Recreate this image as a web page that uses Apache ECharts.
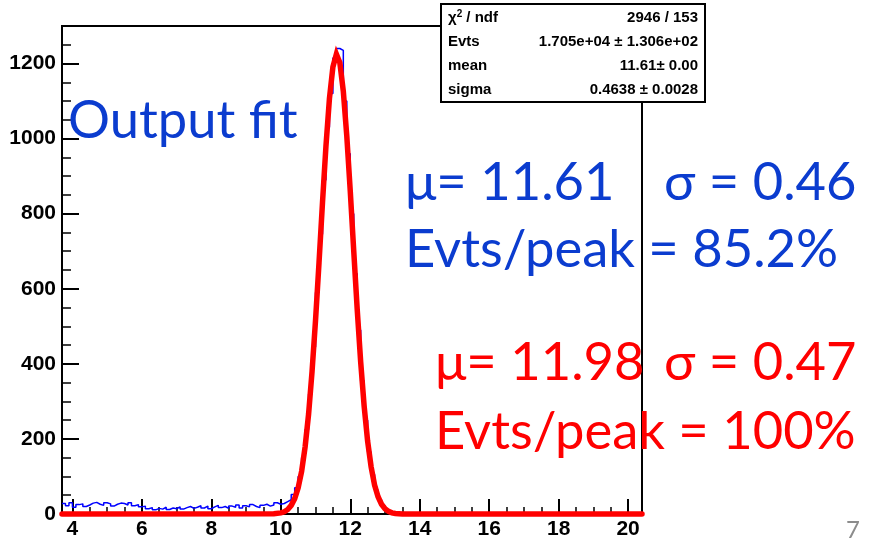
<!DOCTYPE html>
<html>
<head>
<meta charset="utf-8">
<script src="https://cdn.jsdelivr.net/npm/echarts@6.0.0/dist/echarts.min.js"></script>
<style>
  html, body { margin: 0; padding: 0; background: #fff; }
  #chart { width: 874px; height: 540px; }
</style>
</head>
<body>
<div id="chart"></div>
<script>
const binLow = 3.7;
const binWidth = 0.1;

// blue histogram counts, bin by bin
const countsNoise = [
  28, 22, 30, 18, 25, 27, 20, 24, 29, 31, 26, 23,
  30, 27, 21, 26, 29, 28, 24, 30, 22, 25, 19, 21,
  14, 17, 11, 15, 13, 18, 12, 16, 14, 19, 13, 17,
  20, 15, 18, 22, 16, 21, 14, 19, 23, 17, 20, 15,
  21, 18, 24, 16, 22, 19, 25, 20, 17, 23, 26, 21,
  24, 30, 26
];
const countsPeak = [
  28, 33, 38, 52, 70, 100, 150, 225, 320, 445,
  590, 745, 890, 1030, 1120, 1215, 1240, 1235, 1100, 960,
  800, 640, 490, 355, 250, 165, 105, 64, 38, 22,
  12, 6, 3, 1, 0
];
const countsTail = [
  0, 0, 0, 0, 0, 0, 0, 0, 0, 0, 0, 0, 0, 0, 0, 0, 0, 0, 0, 0, 0, 0, 0,
  0, 0, 0, 0, 0, 0, 0, 0, 0, 0, 0, 0, 0, 0, 0, 0, 0, 0, 0, 0, 0, 0, 0,
  0, 0, 0, 0, 0, 0, 0, 0, 0, 0, 0, 0, 0, 0, 0, 0, 0, 0, 0, 0, 0, 0, 0
];

// red gaussian fit, read point by point
const fitX = [3.7, 9.8, 10.0, 10.1, 10.2, 10.3, 10.4, 10.5, 10.6, 10.7, 10.8, 10.9,
  11.0, 11.1, 11.2, 11.3, 11.4, 11.5, 11.6, 11.7, 11.8, 11.9, 12.0, 12.1, 12.2,
  12.3, 12.4, 12.5, 12.6, 12.7, 12.8, 12.9, 13.0, 13.1, 13.2, 13.3, 13.5, 20.4];
const fitY = [0, 0.6, 3, 6, 12, 23, 41, 70, 114, 179, 266, 380,
  516, 669, 829, 980, 1106, 1191, 1225, 1202, 1126, 1007, 860, 701, 545,
  405, 287, 194, 126, 77, 46, 26, 14, 7, 3, 1.5, 0, 0];

// axes
const xMin = 3.7, xMax = 20.4;
const yMin = 0, yMax = 1300;
const xMajorTicks = [4, 6, 8, 10, 12, 14, 16, 18, 20];
const xMinorTicks = [4, 4.5, 5, 5.5, 6, 6.5, 7, 7.5, 8, 8.5, 9, 9.5, 10, 10.5, 11, 11.5,
  12, 12.5, 13, 13.5, 14, 14.5, 15, 15.5, 16, 16.5, 17, 17.5, 18, 18.5, 19, 19.5, 20];
const yMajorTicks = [0, 200, 400, 600, 800, 1000, 1200];
const yMinorTicks = [0, 50, 100, 150, 200, 250, 300, 350, 400, 450, 500, 550, 600, 650,
  700, 750, 800, 850, 900, 950, 1000, 1050, 1100, 1150, 1200, 1250];

// stats box
const statNames = ['{n|\u03c7}{s|2}{n| / ndf}', 'Evts', 'mean', 'sigma'];
const statValues = ['2946 / 153', '1.705e+04 \u00b1 1.306e+02', '11.61\u00b1 0.00', '0.4638 \u00b1 0.0028'];

const counts = countsNoise.concat(countsPeak, countsTail);
const histData = counts.map((c, i) => [+(binLow + i * binWidth).toFixed(2), c]);
histData.push([+(binLow + counts.length * binWidth).toFixed(2), counts[counts.length - 1]]);
const fitData = fitX.map((x, i) => [x, fitY[i]]);

const BLUE = '#0b3ccf';
const RED = '#ff0000';
const textFont = 'Lato, "Open Sans", sans-serif';
const statFont = 'bold 15px "Liberation Sans", Arial, sans-serif';

function label(text, x, y, size, color, align) {
  return {
    type: 'text', x: x, y: y, z: 100,
    style: {
      text: text, fill: color, font: size + 'px ' + textFont,
      align: align || 'left', verticalAlign: 'middle',
      textAlign: align || 'left', textVerticalAlign: 'middle'
    }
  };
}

const statsGraphics = [{
  type: 'rect', z: 90,
  shape: {x: 441, y: 4, width: 264, height: 98},
  style: {fill: '#fff', stroke: '#000', lineWidth: 2}
}];
statNames.forEach((n, i) => {
  const y = 18 + i * 24;
  statsGraphics.push({
    type: 'text', x: 448, y: y, z: 91,
    style: {text: n, fill: '#000', font: statFont,
      align: 'left', verticalAlign: 'middle', textAlign: 'left', textVerticalAlign: 'middle',
      rich: {
        n: {font: statFont, fill: '#000'},
        s: {font: 'bold 10px "Liberation Sans", Arial, sans-serif', fill: '#000', verticalAlign: 'top', padding: [0, 0, 7, 0]}
      }}
  });
  statsGraphics.push({
    type: 'text', x: 698, y: y, z: 91,
    style: {text: statValues[i], fill: '#000', font: statFont,
      align: 'right', verticalAlign: 'middle', textAlign: 'right', textVerticalAlign: 'middle'}
  });
});

const chart = echarts.init(document.getElementById('chart'), null, {renderer: 'canvas'});
const tickFont = {color: '#000', fontWeight: 'bold', fontSize: 21, fontFamily: '"Liberation Sans", Arial, sans-serif'};

chart.setOption({
  animation: false,
  backgroundColor: '#fff',
  grid: {left: 62, right: 232, top: 26, bottom: 24, show: true, borderColor: '#000', borderWidth: 2, backgroundColor: 'transparent'},
  xAxis: [{
    type: 'value', min: xMin, max: xMax,
    axisLine: {show: true, lineStyle: {color: '#000', width: 2}},
    axisTick: {show: true, inside: true, length: 15, customValues: xMajorTicks, lineStyle: {color: '#000', width: 2}},
    axisLabel: Object.assign({margin: 5, customValues: xMajorTicks, formatter: v => String(v)}, tickFont),
    splitLine: {show: false}
  }, {
    type: 'value', min: xMin, max: xMax, position: 'bottom',
    axisLine: {show: false},
    axisTick: {show: true, inside: true, length: 7, customValues: xMinorTicks, lineStyle: {color: '#000', width: 1.5}},
    axisLabel: {show: false},
    splitLine: {show: false}
  }],
  yAxis: [{
    type: 'value', min: yMin, max: yMax,
    axisLine: {show: true, lineStyle: {color: '#000', width: 2}},
    axisTick: {show: true, inside: true, length: 17, customValues: yMajorTicks, lineStyle: {color: '#000', width: 2}},
    axisLabel: Object.assign({margin: 6, customValues: yMajorTicks, formatter: v => String(v)}, tickFont),
    splitLine: {show: false}
  }, {
    type: 'value', min: yMin, max: yMax, position: 'left',
    axisLine: {show: false},
    axisTick: {show: true, inside: true, length: 9, customValues: yMinorTicks, lineStyle: {color: '#000', width: 1.5}},
    axisLabel: {show: false},
    splitLine: {show: false}
  }],
  series: [{
    name: 'hist', type: 'line', step: 'end', data: histData,
    showSymbol: false, symbol: 'none',
    lineStyle: {color: '#0000ff', width: 1.5}, z: 3
  }, {
    name: 'fit', type: 'line', data: fitData, clip: false,
    showSymbol: false, symbol: 'none', smooth: false,
    lineStyle: {color: RED, width: 5.5, join: 'miter', cap: 'round'}, z: 4
  }],
  graphic: statsGraphics.concat([
    label('Output fit', 68, 121, 52.5, BLUE),
    label('\u03bc= 11.61', 405, 183, 52.5, BLUE),
    label('\u03c3 = 0.46', 664, 183, 52.5, BLUE),
    label('Evts/peak = 85.2%', 405, 250, 52.5, BLUE),
    label('\u03bc= 11.98', 435, 363, 52.5, RED),
    label('\u03c3 = 0.47', 664, 363, 52.5, RED),
    label('Evts/peak = 100%', 435, 432, 52.5, RED),
    label('7', 853, 530, 24, '#8c8c8c', 'center')
  ])
});
</script>
</body>
</html>
